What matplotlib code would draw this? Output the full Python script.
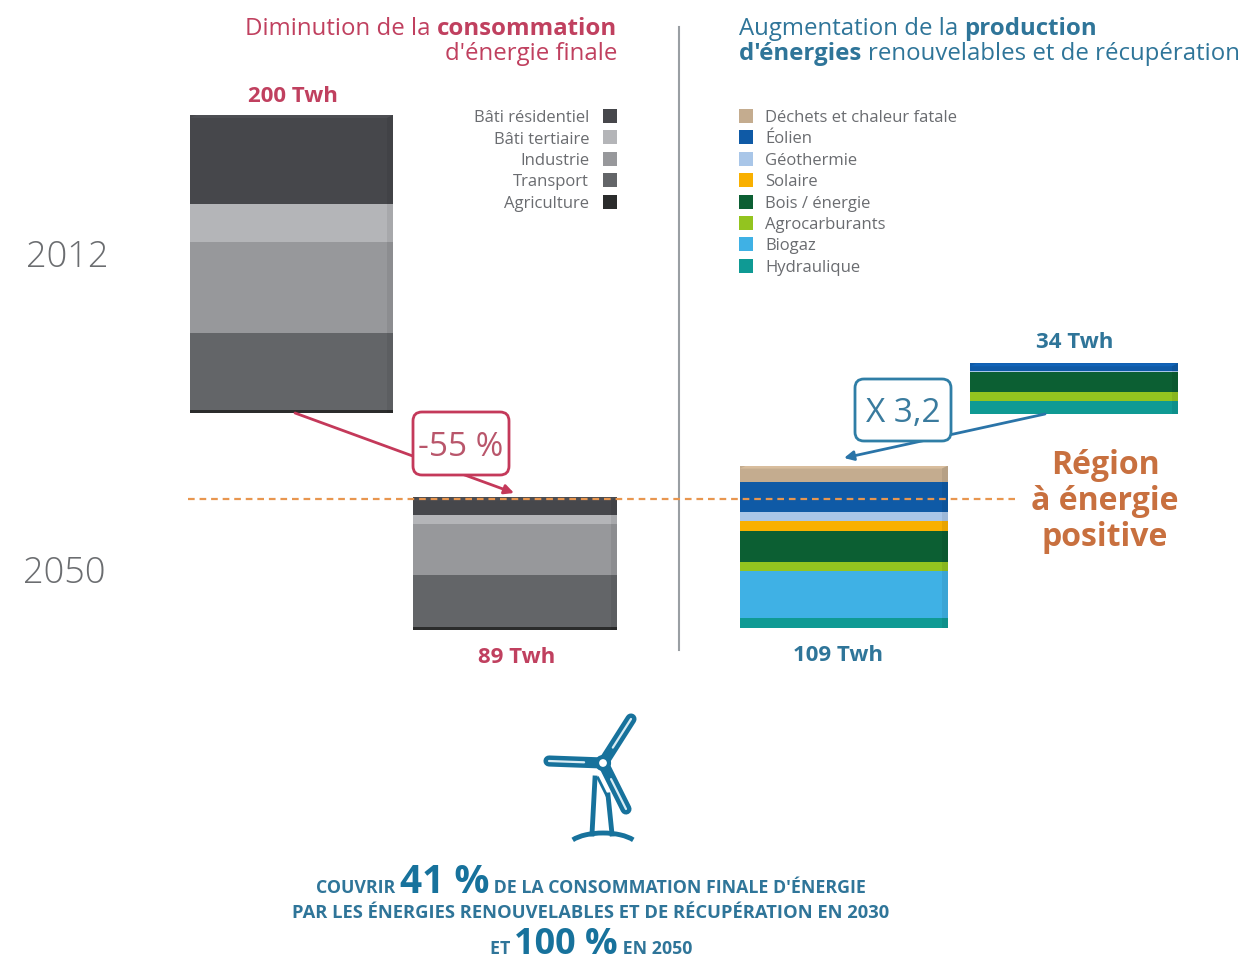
#!/usr/bin/env python3

import matplotlib
matplotlib.use('Agg')
import matplotlib.pyplot as plt
from matplotlib.patches import FancyBboxPatch, Polygon, Rectangle, Circle, Arc

W, H = 1245, 963
PX_PER_TWH = 1.49

use_labels = ['Bâti résidentiel', 'Bâti tertiaire', 'Industrie', 'Transport', 'Agriculture']
use_colors = ['#46474b', '#b4b5b8', '#97989b', '#636568', '#2b2c2c']
use_2012 = [60, 25, 61, 52, 2]
use_2050 = [12, 6, 34, 35, 2]

prod_labels = ['Déchets et chaleur fatale', 'Éolien', 'Géothermie', 'Solaire',
               'Bois / énergie', 'Agrocarburants', 'Biogaz', 'Hydraulique']
prod_colors = ['#c4ac8f', '#0f5aa6', '#a9c6e8', '#f9b000',
               '#0c5f33', '#93c41f', '#3fb1e5', '#0f9a94']
prod_2012 = [0, 5, 1, 0, 13, 6, 0, 9]
prod_2050 = [11, 20, 6, 7, 21, 6, 31, 7]

RED = '#c0405f'
BLUE = '#2f7599'
ORANGE = '#c8703f'
TEXT_GREY = '#6a6c70'
TURBINE = '#17729c'

plt.rcParams['font.family'] = ['Open Sans', 'DejaVu Sans']
fig = plt.figure(figsize=(W / 100, H / 100), dpi=100)


def shade(color, factor):
    rgb = matplotlib.colors.to_rgb(color)
    return tuple(min(1, c * factor) for c in rgb)


def stacked_block(left, bottom_px, width, values, colors):
    """Stacked block, top segment first, with a darker side and a slanted top."""
    total = sum(values)
    height = total * PX_PER_TWH
    ax = fig.add_axes([left / W, 1 - bottom_px / H, width / W, height / H])
    ax.set_xlim(0, 1)
    ax.set_ylim(0, total)
    ax.axis('off')
    side = 0.03
    top = total
    for v, c in zip(values, colors):
        top -= v
        if v == 0:
            continue
        ax.bar(0, v, bottom=top, width=1 - side, align='edge', color=c, linewidth=0)
        ax.bar(1 - side, v, bottom=top, width=side, align='edge',
               color=shade(c, 0.93), linewidth=0)
    first = next(c for v, c in zip(values, colors) if v)
    cap = 3 / PX_PER_TWH
    ax.add_patch(Polygon([(0, total - cap), (0.03, total), (1, total), (1 - side, total - cap)],
                         closed=True, color=shade(first, 1.1), linewidth=0, zorder=3))
    return ax


stacked_block(190, 413, 203, use_2012, use_colors)
stacked_block(413, 630, 204, use_2050, use_colors)
stacked_block(740, 628, 208, prod_2050, prod_colors)
stacked_block(970, 414, 208, prod_2012, prod_colors)

# overlay in pixel units for texts, legends and callouts
ov = fig.add_axes([0, 0, 1, 1], zorder=5)
ov.set_xlim(0, W)
ov.set_ylim(H, 0)
ov.axis('off')
ov.patch.set_alpha(0)


def text_runs(x, y, runs, size, ha='left'):
    """Write one line made of (text, color, weight, size or None) runs."""
    renderer = fig.canvas.get_renderer()
    items = []
    total = 0
    for s, color, weight, own_size in runs:
        t = ov.text(0, y, s, color=color, fontweight=weight, fontsize=own_size or size,
                    va='baseline')
        w = t.get_window_extent(renderer).width
        items.append((t, w))
        total += w
    cur = x - total if ha == 'right' else x - total / 2 if ha == 'center' else x
    for t, w in items:
        t.set_x(cur)
        cur += w


# titles
text_runs(617, 35, [('Diminution de la ', RED, 'normal', None), ('consommation', RED, 'bold', None)], 17.3, 'right')
text_runs(617, 60, [("d'énergie finale", RED, 'normal', None)], 17.3, 'right')
text_runs(739, 35, [('Augmentation de la ', BLUE, 'normal', None), ('production', BLUE, 'bold', None)], 17.3)
text_runs(739, 60, [("d'énergies ", BLUE, 'bold', None),
                    ('renouvelables et de récupération', BLUE, 'normal', None)], 17.3)

ov.plot([679, 679], [27, 650], color='#9a9fa3', lw=1.5)

# years
ov.text(67, 253, '2012', fontsize=26, color='#6b6d70', ha='center', va='center_baseline', fontweight='light')
ov.text(64, 569, '2050', fontsize=26, color='#6b6d70', ha='center', va='center_baseline', fontweight='light')

# legends
for i, (lab, col) in enumerate(zip(use_labels, use_colors)):
    yc = 116 + i * 21.5
    ov.add_patch(Rectangle((603, yc - 7), 14, 14, color=col, linewidth=0))
    ov.text(589, yc, lab, ha='right', va='center_baseline', fontsize=12, color=TEXT_GREY)
for i, (lab, col) in enumerate(zip(prod_labels, prod_colors)):
    yc = 116 + i * 21.4
    ov.add_patch(Rectangle((739, yc - 7), 14, 14, color=col, linewidth=0))
    ov.text(765, yc, lab, ha='left', va='center_baseline', fontsize=12, color=TEXT_GREY)

# totals, drawn from the same values as the blocks
for xt, yt, values, col in [(293, 94, use_2012, RED), (517, 655, use_2050, RED),
                            (838, 653, prod_2050, BLUE), (1075, 340, prod_2012, BLUE)]:
    ov.text(xt, yt, '%d Twh' % sum(values), fontsize=16, fontweight='bold', color=col,
            ha='center', va='center_baseline')

# threshold line
ov.plot([188, 1015], [499, 499], color='#e8964f', lw=1.6, ls=(0, (3, 2.2)), zorder=4)
for i, word in enumerate(['Région', 'à énergie', 'positive']):
    ov.text(1105, 462 + i * 35.5, word, fontsize=23, fontweight='bold', color=ORANGE,
            ha='center', va='center_baseline')


def callout(x0, y0, x1, y1, label, color, text_color):
    ov.add_patch(FancyBboxPatch((x0 + 8, y0 + 8), x1 - x0 - 16, y1 - y0 - 16,
                                boxstyle='round,pad=8,rounding_size=9',
                                fc='white', ec=color, lw=2, zorder=6))
    ov.text((x0 + x1) / 2, (y0 + y1) / 2, label, fontsize=24, color=text_color,
            ha='center', va='center_baseline', zorder=7)


ov.annotate('', xy=(514, 493), xytext=(295, 413),
            arrowprops=dict(arrowstyle='-|>', color='#c4395a', lw=2, shrinkA=0, shrinkB=0, mutation_scale=14),
            zorder=5)
callout(413, 412, 509, 475, '-55 %', '#c4395a', '#b9566b')

ov.annotate('', xy=(844, 458), xytext=(1045, 414),
            arrowprops=dict(arrowstyle='-|>', color='#2a74a8', lw=2, shrinkA=0, shrinkB=0, mutation_scale=14),
            zorder=5)
callout(855, 379, 951, 441, 'X 3,2', '#2f7ea6', '#3a7b9e')

# wind turbine
for tip in [(631, 719), (549, 761), (626, 809)]:
    ov.plot([603, tip[0]], [763, tip[1]], color=TURBINE, lw=8, solid_capstyle='round', zorder=5)
    mid = (603 + (tip[0] - 603) * 0.35, 763 + (tip[1] - 763) * 0.35)
    ov.plot([mid[0], tip[0]], [mid[1], tip[1]], color='#d9ecf4', lw=1.6, solid_capstyle='round', zorder=5)
ov.add_patch(Circle((603, 763), 6, fc='white', ec=TURBINE, lw=3, zorder=6))
ov.plot([595, 592], [778, 834], color=TURBINE, lw=3.5)
ov.plot([608, 612], [795, 834], color=TURBINE, lw=3.5)
ov.add_patch(Arc((603, 848), 72, 30, theta1=-165, theta2=-15, color=TURBINE, lw=3.5))
ov.plot([598, 609], [778, 800], color=TURBINE, lw=2)

# bottom statement
text_runs(591, 893, [('COUVRIR ', BLUE, 'bold', None), ('41 %', TURBINE, 'bold', 28),
                     (" DE LA CONSOMMATION FINALE D'ÉNERGIE", BLUE, 'bold', None)], 12.8, 'center')
text_runs(591, 918, [('PAR LES ÉNERGIES RENOUVELABLES ET DE RÉCUPÉRATION EN 2030', BLUE, 'bold', None)],
          13.2, 'center')
text_runs(591, 954, [('ET ', BLUE, 'bold', None), ('100 %', TURBINE, 'bold', 26),
                     (' EN 2050', BLUE, 'bold', None)], 12.8, 'center')

fig.savefig('out.png', dpi=100)
